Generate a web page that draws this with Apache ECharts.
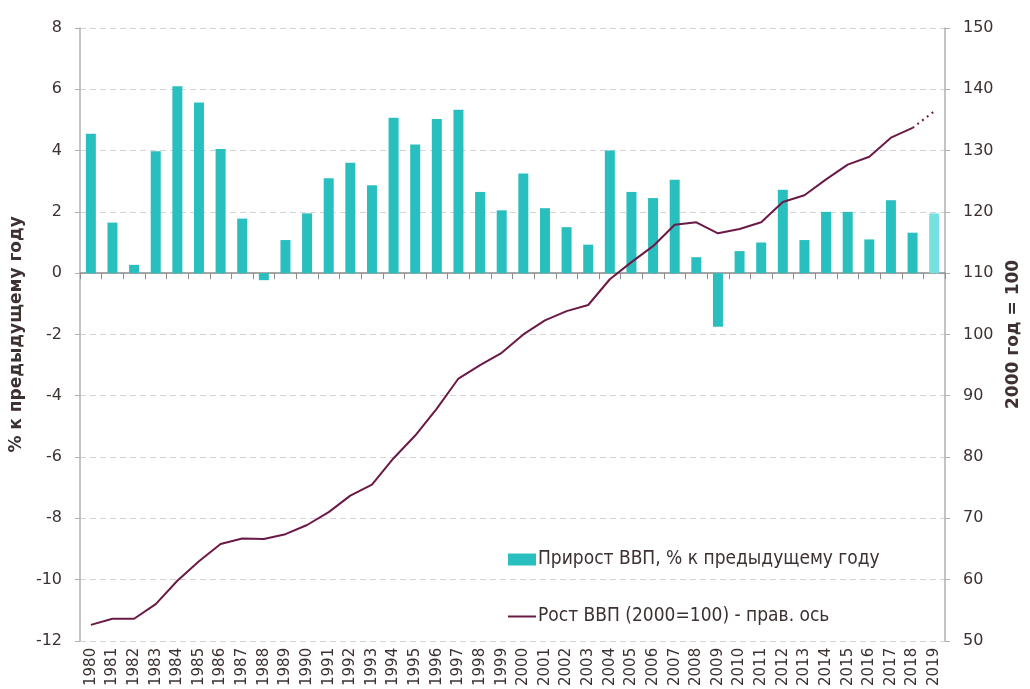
<!DOCTYPE html>
<html>
<head>
<meta charset="utf-8">
<script src="https://cdn.jsdelivr.net/npm/echarts@6/dist/echarts.min.js"></script>
<style>
  html, body { margin: 0; padding: 0; background: #fff; }
  #chart { width: 1030px; height: 689px; }
</style>
</head>
<body>
<div id="chart"></div>
<script>
// годы
var years = ['1980','1981','1982','1983','1984','1985','1986','1987','1988','1989',
  '1990','1991','1992','1993','1994','1995','1996','1997','1998','1999',
  '2000','2001','2002','2003','2004','2005','2006','2007','2008','2009',
  '2010','2011','2012','2013','2014','2015','2016','2017','2018','2019'];

// прирост ВВП, % к предыдущему году
var growth = [4.55, 1.65, 0.27, 3.98, 6.1, 5.57, 4.05, 1.78, -0.23, 1.08,
  1.95, 3.1, 3.6, 2.87, 5.07, 4.2, 5.03, 5.33, 2.65, 2.05,
  3.25, 2.12, 1.5, 0.93, 4.0, 2.65, 2.45, 3.05, 0.52, -1.75,
  0.72, 1.0, 2.72, 1.08, 2.0, 2.0, 1.1, 2.38, 1.32, 1.95];

// рост ВВП, 2000 = 100 (факт)
var level = [52.6, 53.6, 53.6, 56.0, 59.8, 63.0, 65.8, 66.7, 66.6, 67.4,
  68.9, 71.0, 73.7, 75.5, 79.8, 83.5, 87.9, 92.8, 95.0, 97.0,
  100, 102.3, 103.8, 104.8, 109.0, 111.8, 114.4, 117.9, 118.3, 116.5,
  117.2, 118.3, 121.6, 122.7, 125.3, 127.7, 129.0, 132.1, 133.7, null];

// прогноз (пунктир)
var levelForecast = [null, null, null, null, null, null, null, null, null, null,
  null, null, null, null, null, null, null, null, null, null,
  null, null, null, null, null, null, null, null, null, null,
  null, null, null, null, null, null, null, null, 133.7, 136.4];

var leftTicks = { min: -12, max: 8, interval: 2 };
var rightTicks = { min: 50, max: 150, interval: 10 };

var forecastYear = '2019';
var barColor = '#2abfbf';
var barForecastColor = '#78e0e0';
var lineColor = '#6b1a45';
var textColor = '#3d3131';

var barName = 'Прирост ВВП, % к предыдущему году';
var lineName = 'Рост ВВП (2000=100) - прав. ось';

var barData = growth.map(function (v, i) {
  if (years[i] === forecastYear) {
    return { value: v, itemStyle: { color: barForecastColor } };
  }
  return v;
});

var myChart = echarts.init(document.getElementById('chart'));

var option = {
  animation: false,
  textStyle: { fontFamily: 'DejaVu Sans', color: textColor },
  grid: { left: 79, right: 78, top: 28, bottom: 46 },
  legend: {
    orient: 'vertical',
    left: 503,
    top: 545,
    itemWidth: 28,
    itemHeight: 12,
    itemGap: 38,
    data: [
      { name: barName, icon: 'rect' },
      // тонкая линия без маркера
      { name: lineName, icon: 'path://M0,0M28,12M0,5L28,5L28,7L0,7Z', itemStyle: { color: lineColor } }
    ],
    textStyle: { fontFamily: 'DejaVu Sans Condensed', fontSize: 19, color: textColor, padding: [0, 0, 0, -3] }
  },
  xAxis: {
    type: 'category',
    data: years,
    axisLine: { onZero: true, lineStyle: { color: '#8c8c8c', width: 1.5 } },
    axisTick: { show: true, length: 6, lineStyle: { color: '#8c8c8c' } },
    axisLabel: {
      rotate: 90,
      interval: 0,
      fontSize: 15,
      color: textColor,
      margin: 7
    }
  },
  yAxis: [
    {
      type: 'value',
      min: leftTicks.min,
      max: leftTicks.max,
      interval: leftTicks.interval,
      name: '% к предыдущему году',
      nameLocation: 'middle',
      nameRotate: 90,
      nameGap: 52,
      nameTextStyle: { fontSize: 17, fontWeight: 'bold', color: textColor },
      axisLine: { show: true, lineStyle: { color: '#b0b0b0', width: 1.5 } },
      axisTick: { show: true, length: 5, lineStyle: { color: '#b0b0b0' } },
      axisLabel: { fontSize: 16, color: textColor, margin: 18 },
      splitLine: { show: true, lineStyle: { color: '#d4d4d4', type: [6, 4], width: 1 } }
    },
    {
      type: 'value',
      position: 'right',
      min: rightTicks.min,
      max: rightTicks.max,
      interval: rightTicks.interval,
      name: '2000 год = 100',
      nameLocation: 'middle',
      nameRotate: 90,
      nameGap: 60,
      nameTextStyle: { fontSize: 17, fontWeight: 'bold', color: textColor },
      axisLine: { show: true, lineStyle: { color: '#b0b0b0', width: 1.5 } },
      axisTick: { show: true, length: 5, lineStyle: { color: '#b0b0b0' } },
      axisLabel: { fontSize: 16, color: textColor, margin: 18 },
      splitLine: { show: false }
    }
  ],
  series: [
    {
      name: barName,
      type: 'bar',
      yAxisIndex: 0,
      barWidth: 10,
      itemStyle: { color: barColor },
      data: barData
    },
    {
      name: lineName,
      type: 'line',
      yAxisIndex: 1,
      symbol: 'none',
      lineStyle: { color: lineColor, width: 2 },
      itemStyle: { color: lineColor },
      data: level
    },
    {
      name: 'прогноз',
      type: 'line',
      yAxisIndex: 1,
      symbol: 'none',
      lineStyle: { color: lineColor, width: 2, type: [2, 4] },
      itemStyle: { color: lineColor },
      data: levelForecast
    }
  ]
};

myChart.setOption(option);
</script>
</body>
</html>
